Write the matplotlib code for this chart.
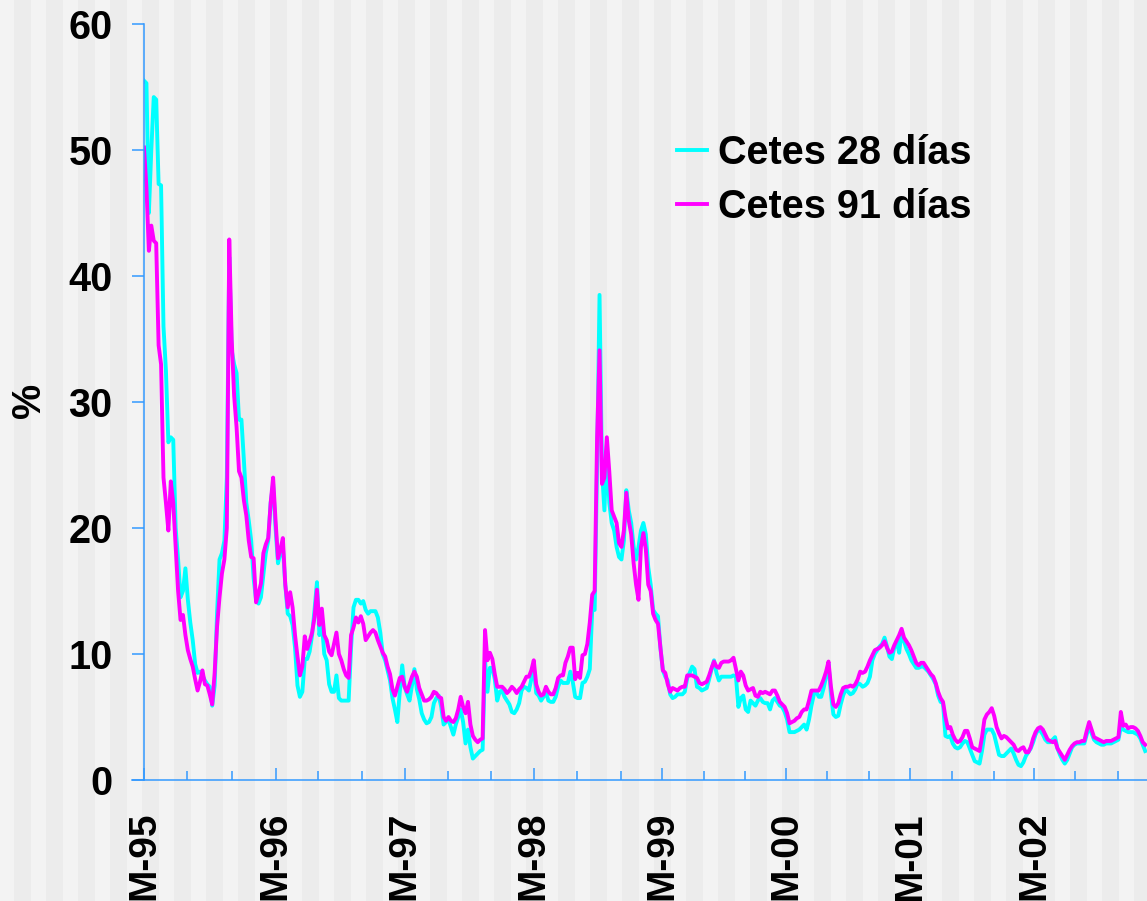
import matplotlib
matplotlib.use('Agg')
import matplotlib.pyplot as plt
from matplotlib.ticker import FixedLocator

# weekly auction yields (%), one value per weekly auction from March 1995
CETES_28 = [
    55.5, 55.3, 45, 50, 54.2, 54, 47.3, 47.2, 36, 32.5, 26.8, 27.2, 27,
    20, 17.5, 14.5, 15, 16.8, 14.3, 12.5, 11.1, 9.2, 8.5, 8.6, 8.3, 7.9,
    7.6, 7.4, 5.9, 7.5, 13.3, 17.5, 18, 19, 24, 41.5, 34.1, 33, 32.3,
    28.6, 28.6, 25.4, 22, 20.6, 19, 16, 14.3, 14, 14.5, 16.3, 18, 19,
    22, 23.5, 20, 17.2, 18, 18.5, 15.5, 13.2, 13, 12.3, 10.5, 7.5, 6.6,
    7.0, 9.6, 9.6, 10.2, 11.5, 13.5, 15.7, 11.5, 12.5, 10.0, 9.5, 7.6, 7.0,
    7.0, 8.3, 6.5, 6.3, 6.3, 6.3, 6.3, 10.5, 13.7, 14.3, 14.3, 14.0, 14.2,
    13.5, 13.2, 13.4, 13.4, 13.4, 12.9, 11.7, 10.0, 9.5, 8.7, 7.9, 6.5, 5.6,
    4.6, 7.0, 9.1, 7.4, 6.8, 6.3, 7.5, 8.8, 7.2, 6.4, 5.3, 4.8, 4.5,
    4.6, 5.0, 6.1, 6.5, 6.7, 5.8, 4.4, 4.6, 4.8, 4.2, 3.6, 4.4, 5.0,
    5.6, 4.6, 2.9, 4.0, 2.6, 1.7, 1.9, 2.1, 2.3, 2.4, 9.5, 7.0, 8.9,
    8.9, 8.0, 6.3, 7.0, 7.1, 6.6, 6.3, 6.0, 5.4, 5.3, 5.6, 6.1, 7.1,
    7.4, 7.3, 7.1, 8.0, 8.9, 6.9, 6.7, 6.3, 6.6, 7.0, 6.3, 6.2, 6.2,
    6.6, 7.4, 7.9, 7.7, 7.7, 7.7, 8.6, 7.8, 6.6, 6.5, 6.5, 7.7, 7.8,
    8.2, 8.8, 13.5, 13.5, 25, 38.5, 24.6, 21.4, 26.5, 22, 20.4, 19.8, 18.5,
    17.7, 17.5, 19, 23, 21.4, 20.4, 18.5, 17.5, 18.5, 19.8, 20.4, 19.5, 16.9,
    15.5, 13.5, 13.2, 13, 10.5, 8.7, 8.2, 7.9, 6.8, 6.5, 6.6, 6.8, 6.8,
    6.8, 7.0, 8.1, 8.5, 9.0, 8.8, 7.4, 7.3, 7.1, 7.2, 7.3, 8.0, 8.8,
    9.5, 8.5, 7.9, 8.2, 8.2, 8.2, 8.2, 8.2, 8.3, 8.2, 5.8, 6.5, 6.7,
    5.6, 5.4, 6.3, 6.1, 5.9, 6.3, 6.5, 6.2, 6.1, 6.1, 5.6, 6.3, 6.5,
    6.2, 5.9, 5.8, 5.4, 4.8, 3.8, 3.8, 3.8, 3.9, 4.0, 4.2, 4.4, 4.0,
    4.8, 5.9, 6.8, 7.0, 6.6, 6.6, 7.3, 8.2, 9.2, 6.8, 5.2, 5.0, 5.1,
    6.0, 6.7, 7.2, 7.0, 6.8, 6.9, 7.2, 7.7, 7.6, 7.4, 7.5, 7.7, 8.2,
    9.5, 10.0, 10.3, 10.6, 10.8, 11.3, 10.6, 9.8, 9.6, 10.5, 11.0, 10.1, 11.8,
    11.0, 10.4, 10.0, 9.5, 9.2, 8.9, 8.9, 9.0, 9.0, 8.8, 8.6, 8.3, 8.0,
    7.6, 6.7, 6.2, 6.1, 3.5, 3.4, 3.5, 2.9, 2.6, 2.5, 2.6, 2.9, 3.1,
    3.0, 2.5, 2.0, 1.5, 1.4, 1.3, 2.3, 3.6, 4.0, 4.0, 4.0, 3.6, 2.8,
    2.0, 1.9, 1.9, 2.1, 2.3, 2.5, 2.1, 1.6, 1.2, 1.1, 1.4, 1.9, 2.2,
    2.5, 3.0, 3.6, 4.0, 3.9, 3.6, 3.2, 3.0, 3.0, 3.2, 3.4, 2.5, 2.0,
    1.6, 1.3, 1.6, 2.1, 2.6, 2.8, 2.9, 2.9, 2.9, 2.9, 3.6, 4.3, 3.7,
    3.2, 3.0, 2.9, 2.8, 2.8, 2.9, 2.9, 2.9, 3.0, 3.1, 3.2, 4.2, 4.0,
    3.9, 3.8, 3.8, 3.8, 3.7, 3.6, 3.3, 2.8, 2.3,
]

CETES_91 = [
    50.2, 47, 42, 44, 42.8, 42.6, 34.5, 33, 24, 22, 19.8, 23.7, 22,
    18.5, 15, 12.7, 13.1, 11.5, 10.3, 9.6, 9.0, 8.0, 7.1, 7.8, 8.7, 7.6,
    7.5, 6.8, 6.0, 8.5, 12.2, 14.5, 16.4, 17.5, 20, 42.9, 35, 30.5, 28,
    24.5, 24, 22.2, 21, 19, 17.7, 17.6, 14.1, 14.8, 15.6, 18, 18.7, 19.2,
    22, 24, 20.6, 17.6, 18.3, 19.2, 15.5, 13.7, 14.9, 13.7, 11.5, 9.8, 8.3,
    9.0, 11.4, 10.4, 11.0, 11.7, 12.9, 15.1, 12.3, 13.6, 11.5, 11.1, 10.2, 9.9,
    10.8, 11.7, 10.0, 9.5, 8.8, 8.3, 8.1, 11.5, 12.1, 12.9, 12.5, 13.0, 12.4,
    11.1, 11.4, 11.7, 11.9, 11.7, 11.1, 10.6, 10.1, 9.8, 9.0, 8.4, 7.2, 6.7,
    7.4, 8.1, 8.2, 7.4, 7.0, 7.6, 8.2, 8.6, 8.2, 7.3, 6.8, 6.3, 6.3,
    6.4, 6.6, 7.0, 6.9, 6.6, 6.5, 5.0, 4.7, 5.0, 4.7, 4.6, 4.9, 5.6,
    6.6, 5.8, 5.3, 6.2, 4.4, 3.5, 3.2, 3.0, 3.2, 3.3, 11.9, 9.5, 10.1,
    9.6, 8.4, 7.4, 7.4, 7.4, 7.2, 6.9, 7.1, 7.4, 7.2, 6.9, 7.2, 7.4,
    7.8, 8.2, 8.2, 8.7, 9.5, 7.6, 7.0, 6.7, 6.8, 7.4, 7.0, 6.8, 6.8,
    7.3, 8.1, 8.3, 8.3, 9.3, 9.8, 10.5, 10.5, 8.0, 8.5, 8.1, 9.9, 10.0,
    10.8, 12.5, 14.7, 15, 27.2, 34.1, 23.5, 24, 27.2, 24.5, 21.4, 20.9, 20.4,
    18.8, 18.5, 19.8, 22.8, 20.6, 19.5, 17.2, 15.5, 14.3, 18.5, 19.6, 18.3, 15.5,
    15.0, 13.2, 12.7, 12.4, 10.5, 8.7, 8.5, 7.6, 7.0, 7.3, 7.2, 7.1, 7.3,
    7.4, 7.4, 8.3, 8.3, 8.3, 8.2, 8.1, 7.7, 7.6, 7.7, 7.8, 8.3, 8.9,
    9.4, 9.0, 8.9, 9.3, 9.4, 9.4, 9.4, 9.5, 9.7, 8.8, 7.9, 8.6, 8.3,
    7.5, 7.1, 7.2, 7.3, 6.7, 6.6, 7.0, 6.9, 7.0, 6.9, 6.8, 7.1, 7.1,
    6.7, 6.2, 6.0, 5.8, 5.3, 4.5, 4.6, 4.7, 4.9, 5.0, 5.4, 5.6, 5.6,
    6.3, 7.1, 7.1, 7.1, 7.1, 7.5, 8.0, 8.6, 9.4, 7.4, 6.0, 5.8, 6.1,
    6.8, 7.3, 7.4, 7.4, 7.5, 7.4, 7.6, 8.0, 8.6, 8.5, 8.6, 9.0, 9.5,
    9.9, 10.3, 10.4, 10.5, 10.7, 11.0, 10.5, 10.1, 10.2, 10.7, 11.1, 11.5, 12.0,
    11.3, 11.0, 10.7, 10.3, 9.8, 9.3, 9.1, 9.3, 9.3, 9.0, 8.7, 8.4, 8.2,
    7.7, 7.0, 6.5, 6.2, 5.0, 4.1, 4.2, 3.6, 3.2, 3.0, 3.1, 3.4, 3.9,
    3.9, 3.3, 2.6, 2.5, 2.4, 2.3, 3.4, 4.8, 5.2, 5.4, 5.7, 5.1, 4.2,
    3.7, 3.3, 3.5, 3.4, 3.2, 3.0, 2.8, 2.4, 2.3, 2.5, 2.6, 2.2, 2.2,
    2.6, 3.3, 3.8, 4.1, 4.2, 4.0, 3.6, 3.2, 3.1, 3.0, 3.1, 2.5, 2.2,
    1.9, 1.6, 2.0, 2.4, 2.7, 2.9, 3.0, 3.0, 3.1, 3.1, 3.9, 4.6, 4.0,
    3.4, 3.3, 3.2, 3.1, 3.0, 3.1, 3.1, 3.1, 3.2, 3.3, 3.4, 5.4, 4.3,
    4.4, 4.1, 4.2, 4.2, 4.1, 3.9, 3.5, 3.0, 2.8,
]

LABEL_28 = 'Cetes 28 días'
LABEL_91 = 'Cetes 91 días'

# week number at which each March / July / November starts
YEAR_TICKS  = [0, 54, 107, 160, 212.6, 263.5, 314.4, 365.4]
YEAR_LABELS = ['M-95', 'M-96', 'M-97', 'M-98', 'M-99', 'M-00', 'M-01', 'M-02']
MONTH_TICKS = [17.7, 36.1, 71.4, 89.5, 124.8, 142.4, 177.8, 195.8, 229.9,
               246.7, 280.4, 297.6, 331.7, 348.9, 382.2, 399.8]

BLUE    = '#3399FF'
CYAN    = '#00FFFF'
MAGENTA = '#FF00FF'
LIGHT   = '#F3F3F3'
DARK    = '#ECECEC'
W, H    = 1147, 901
FS      = 28.5

plt.rcParams['font.family'] = ['Liberation Sans', 'DejaVu Sans']
plt.rcParams['font.weight'] = 'bold'
plt.rcParams['axes.labelweight'] = 'bold'

fig = plt.figure(figsize=(W / 100, H / 100), dpi=100, facecolor=LIGHT)

# striped background behind everything
bg = fig.add_axes([0, 0, 1, 1], zorder=-1)
bg.set_xlim(0, W)
bg.set_ylim(0, H)
bg.axis('off')
for k in range(37):
    bg.axvspan(14 + 32 * k, 30.5 + 32 * k, color=DARK, lw=0)

ax = fig.add_axes([144 / W, 121 / H, 1003 / W, 756 / H], zorder=1)
ax.set_facecolor('none')

ax.plot(range(len(CETES_28)), CETES_28, color=CYAN, lw=2.8, label=LABEL_28)
ax.plot(range(len(CETES_91)), CETES_91, color=MAGENTA, lw=2.8, label=LABEL_91)

ax.set_xlim(0, 1003 / 2.436)
ax.set_ylim(0, 60)
ax.set_yticks(range(0, 61, 10))

ax.set_xticks(YEAR_TICKS)
ax.set_xticklabels(YEAR_LABELS)
ax.xaxis.set_minor_locator(FixedLocator(MONTH_TICKS))

for side in ('top', 'right'):
    ax.spines[side].set_visible(False)
for side in ('left', 'bottom'):
    ax.spines[side].set_color(BLUE)
    ax.spines[side].set_linewidth(1.1)

ax.tick_params(axis='y', direction='out', length=8.6, width=1.1, color=BLUE,
               pad=14, labelsize=FS)
ax.tick_params(axis='x', which='major', direction='in', length=8.6, width=1.1,
               color=BLUE, pad=23, labelsize=28, labelrotation=90)
ax.tick_params(axis='x', which='minor', direction='in', length=6.5, width=1.1,
               color=BLUE)

# x axis line runs a little past the y axis, like the original
ax.plot([-12 / 1003, 0], [0, 0], transform=ax.transAxes, color=BLUE,
        lw=1.1, clip_on=False)

ax.set_ylabel('%', fontsize=FS, fontweight='bold', va='center')
ax.yaxis.set_label_coords((29 - 144) / 1003, (780 - 400) / 756)

ax.legend(loc='upper left', bbox_to_anchor=(677 / W, 1 - 134 / H),
          bbox_transform=fig.transFigure, frameon=False, fontsize=FS,
          handlelength=0.76, handletextpad=0.28, labelspacing=0.41,
          borderpad=0, borderaxespad=0)

fig.savefig('out.png', dpi=100, facecolor=LIGHT)
plt.close(fig)
